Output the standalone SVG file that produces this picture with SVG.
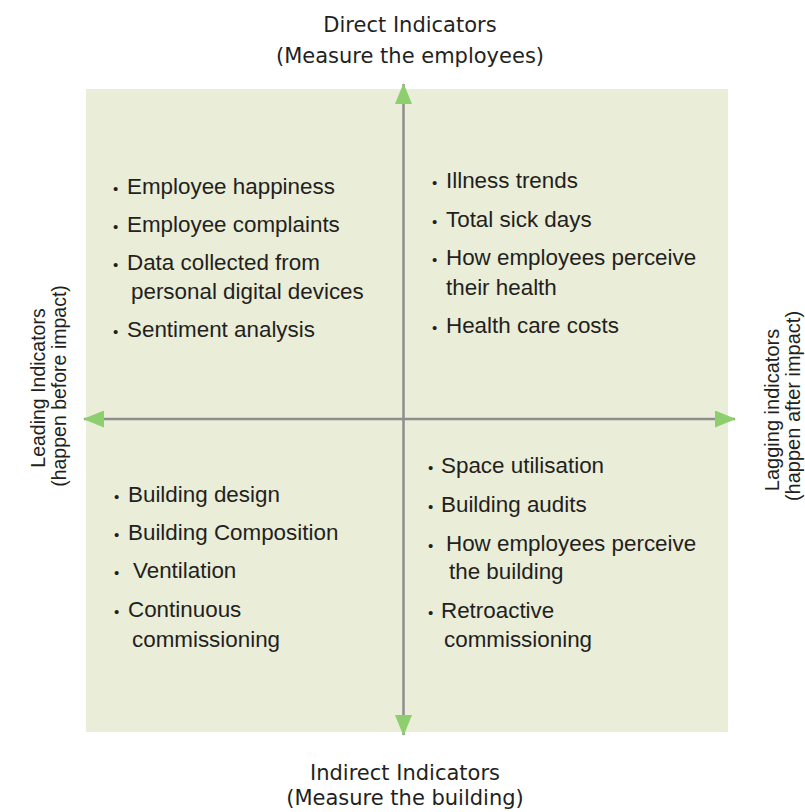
<svg xmlns="http://www.w3.org/2000/svg" width="805" height="812" viewBox="0 0 805 812">
<defs>
<style>
.t{font-family:"Liberation Sans",Arial,sans-serif;font-size:22.4px;fill:#231f20}
.b{font-size:15px}
.h{font-family:"DejaVu Sans","Liberation Sans",sans-serif;font-size:21px;fill:#231f20;text-anchor:middle}
.s{font-family:"Liberation Sans",Arial,sans-serif;font-size:19.5px;fill:#231f20;text-anchor:middle}
.ax{stroke:#8e8e8e;stroke-width:2.5;fill:none}
</style>
<marker id="arr" viewBox="0 0 21 17" refX="20" refY="8.5" markerWidth="21" markerHeight="17" markerUnits="userSpaceOnUse" orient="auto-start-reverse">
<path d="M0,0 L21,8.5 L0,17 z" fill="#8dcf6f"/>
</marker>
</defs>
<rect width="805" height="812" fill="#ffffff"/>
<rect id="field" x="86" y="89" width="642" height="643" fill="#eaedd8"/>
<g id="connectors">
<line class="ax" x1="403.5" y1="84" x2="403.5" y2="735" marker-start="url(#arr)" marker-end="url(#arr)"/>
<line class="ax" x1="84" y1="419" x2="735" y2="419" marker-start="url(#arr)" marker-end="url(#arr)"/>
</g>
<g id="label-top">
<text class="h" x="410" y="32">Direct Indicators</text>
<text class="h" x="410" y="63">(Measure the employees)</text>
</g>
<g id="label-bottom">
<text class="h" x="405" y="780">Indirect Indicators</text>
<text class="h" x="405" y="805">(Measure the building)</text>
</g>
<g id="label-left">
<text class="s" transform="translate(45,388) rotate(-90)">Leading Indicators</text>
<text class="s" transform="translate(66,386) rotate(-90)">(happen before impact)</text>
</g>
<g id="label-right">
<text class="s" transform="translate(779,410) rotate(-90)" style="font-size:20px">Lagging indicators</text>
<text class="s" transform="translate(800,406) rotate(-90)" style="font-size:20px">(happen after impact)</text>
</g>
<g id="q-top-left">
<text class="t" y="194"><tspan class="b" x="113">•</tspan><tspan x="127">Employee happiness</tspan></text>
<text class="t" y="232"><tspan class="b" x="113">•</tspan><tspan x="127">Employee complaints</tspan></text>
<text class="t" y="270"><tspan class="b" x="113">•</tspan><tspan x="127">Data collected from</tspan></text>
<text class="t" x="131" y="299">personal digital devices</text>
<text class="t" y="337"><tspan class="b" x="113">•</tspan><tspan x="127">Sentiment analysis</tspan></text>
</g>
<g id="q-top-right">
<text class="t" y="188"><tspan class="b" x="432">•</tspan><tspan x="446">Illness trends</tspan></text>
<text class="t" y="227"><tspan class="b" x="432">•</tspan><tspan x="446">Total sick days</tspan></text>
<text class="t" y="265"><tspan class="b" x="432">•</tspan><tspan x="446">How employees perceive</tspan></text>
<text class="t" x="446" y="295">their health</text>
<text class="t" y="333"><tspan class="b" x="432">•</tspan><tspan x="446">Health care costs</tspan></text>
</g>
<g id="q-bottom-left">
<text class="t" y="502"><tspan class="b" x="114">•</tspan><tspan x="128">Building design</tspan></text>
<text class="t" y="540"><tspan class="b" x="114">•</tspan><tspan x="128">Building Composition</tspan></text>
<text class="t" y="578"><tspan class="b" x="114">•</tspan><tspan x="133">Ventilation</tspan></text>
<text class="t" y="617"><tspan class="b" x="114">•</tspan><tspan x="128">Continuous</tspan></text>
<text class="t" x="132" y="647">commissioning</text>
</g>
<g id="q-bottom-right">
<text class="t" y="473"><tspan class="b" x="428">•</tspan><tspan x="441">Space utilisation</tspan></text>
<text class="t" y="512"><tspan class="b" x="428">•</tspan><tspan x="441">Building audits</tspan></text>
<text class="t" y="551"><tspan class="b" x="428">•</tspan><tspan x="446">How employees perceive</tspan></text>
<text class="t" x="449" y="579">the building</text>
<text class="t" y="618"><tspan class="b" x="428">•</tspan><tspan x="441">Retroactive</tspan></text>
<text class="t" x="444" y="647">commissioning</text>
</g>
</svg>
